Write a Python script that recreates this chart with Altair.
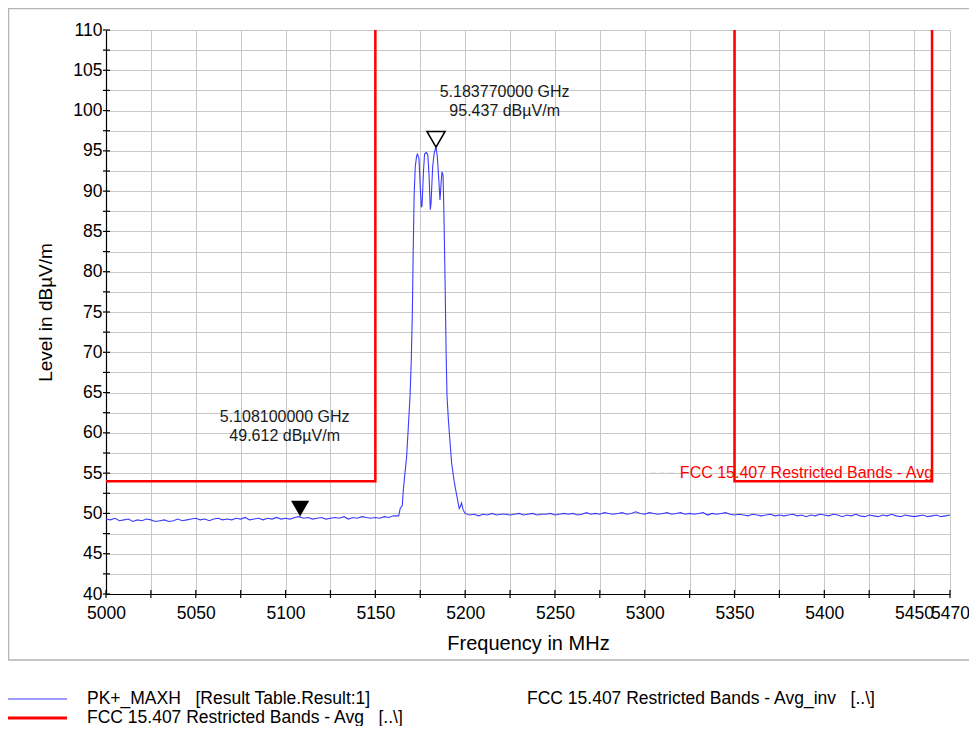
import altair as alt
import pandas as pd
import numpy as np

# ---------------- data ----------------
# noise floor below the carrier (5000 .. 5160 MHz, 2.5 MHz spacing)
left_start = 5000.0
left_vals = [
    49.3, 49.2, 49.4, 49.1, 49.2, 49.3, 49.0, 49.2, 49.1, 49.3,
    49.2, 49.0, 49.1, 49.2, 49.0, 49.1, 49.3, 49.1, 49.2, 49.3,
    49.4, 49.2, 49.3, 49.1, 49.3, 49.4, 49.2, 49.3, 49.2, 49.4,
    49.3, 49.5, 49.2, 49.3, 49.4, 49.2, 49.4, 49.3, 49.5, 49.3,
    49.4, 49.3, 49.5, 49.6, 49.4, 49.5, 49.3, 49.4, 49.5, 49.3,
    49.4, 49.5, 49.4, 49.6, 49.3, 49.5, 49.4, 49.6, 49.5, 49.4,
    49.5, 49.4, 49.6, 49.5, 49.7,
]
# carrier region
peak_freq = [5163.0, 5163.8, 5165.0, 5165.6, 5166.5, 5167.4, 5168.3, 5169.3, 5170.0,
             5170.6, 5171.1, 5171.6, 5172.2, 5173.0, 5173.5, 5174.3, 5175.0, 5175.6,
             5176.0, 5176.8, 5177.4, 5178.4, 5179.2, 5179.9, 5180.6, 5181.0, 5181.9,
             5182.8, 5183.77, 5184.5, 5185.3, 5186.0, 5186.6, 5187.1, 5187.7, 5188.2,
             5188.8, 5189.4, 5189.9, 5190.7, 5191.5, 5192.5, 5193.8, 5195.0, 5195.6,
             5196.7, 5197.4, 5198.0, 5198.8, 5199.9]
peak_vals = [49.7, 50.6, 51.0, 53.0, 55.0, 57.0, 60.5, 64.5, 69.0,
             75.0, 83.0, 89.5, 93.0, 94.4, 94.6, 94.0, 90.5, 88.0,
             88.2, 92.5, 94.6, 94.8, 94.5, 92.0, 87.7, 88.5, 93.0,
             94.8, 95.437, 94.3, 91.5, 88.9, 91.0, 92.4, 92.0, 87.0,
             79.0, 70.0, 64.5, 61.5, 59.1, 56.2, 54.1, 52.6, 51.9,
             50.6, 50.9, 51.3, 50.5, 50.0]
# noise floor above the carrier (5202.5 .. 5470 MHz, 2.5 MHz spacing)
right_start = 5202.5
right_vals = [
    49.8, 49.9, 49.7, 49.9, 49.8, 50.0, 49.8, 49.9, 49.9, 49.8,
    49.9, 50.0, 49.8, 49.9, 50.0, 49.8, 49.9, 49.9, 50.0, 49.8,
    49.9, 50.0, 49.9, 50.0, 49.8, 49.9, 50.1, 49.9, 50.0, 49.9,
    50.1, 50.0, 49.9, 50.0, 50.1, 49.9, 50.0, 50.2, 50.0, 49.9,
    50.1, 50.0, 49.9, 50.0, 50.1, 49.9, 50.0, 50.1, 49.9, 50.0,
    49.9, 50.0, 50.1, 49.8, 50.0, 49.9, 50.0, 50.1, 49.9, 49.8,
    49.9, 49.8, 49.7, 49.9, 49.8, 49.7, 49.8, 49.9, 49.7, 49.8,
    49.7, 49.8, 49.9, 49.7, 49.8, 49.6, 49.8, 49.7, 49.9, 49.8,
    49.7, 49.9, 49.8, 49.6, 49.8, 49.7, 49.9, 49.7, 49.6, 49.8,
    49.7, 49.6, 49.8, 49.7, 49.9, 49.7, 49.6, 49.8, 49.7, 49.6,
    49.7, 49.8, 49.6, 49.7, 49.8, 49.6, 49.7, 49.8,
]

# limit line (FCC 15.407 Restricted Bands - Avg)
limit_f = [5000, 5150, 5150, 5350, 5350, 5460, 5460]
limit_v = [54, 54, 110, 110, 54, 54, 110]
limit_seg = [0, 0, 0, 1, 1, 1, 1]

# markers
marker_f = [5183.77, 5108.1]
marker_v = [95.437, 49.612]
marker_filled = [False, True]
marker_label_f = [5222.0, 5099.5]
marker_label_v = [102.3, 62.0]

limit_label = "FCC 15.407 Restricted Bands - Avg"
limit_label_f = [5460]
limit_label_v = [55.0]
leader_f = [5303, 5317]
leader_v = [55.0, 55.0]

legend_labels = [
    "PK+_MAXH\u00a0\u00a0\u00a0[Result Table.Result:1]",
    "FCC 15.407 Restricted Bands - Avg\u00a0\u00a0\u00a0[..\\]",
    "FCC 15.407 Restricted Bands - Avg_inv\u00a0\u00a0\u00a0[..\\]",
]

x_ticks = [5000 + 25 * i for i in range(19)] + [5470]
y_ticks = [40 + 2.5 * i for i in range(29)]

# ---------------- build tables ----------------
freq = list(left_start + 2.5 * np.arange(len(left_vals))) + peak_freq + \
    list(right_start + 2.5 * np.arange(len(right_vals)))
vals = left_vals + peak_vals + right_vals
trace = pd.DataFrame({"f": freq, "v": vals, "i": range(len(freq))})
limit = pd.DataFrame({"f": limit_f, "v": limit_v, "seg": limit_seg, "i": range(len(limit_f))})
markers = pd.DataFrame({"f": marker_f, "v": marker_v, "filled": marker_filled})
labels = pd.DataFrame({
    "f": marker_label_f, "v": marker_label_v,
    "t": [f"{mf / 1000:.9f} GHz\n{mv:.3f} dBµV/m" for mf, mv in zip(marker_f, marker_v)],
})
limlab = pd.DataFrame({"f": limit_label_f, "v": limit_label_v, "t": [limit_label]})
leader = pd.DataFrame({"f": leader_f, "v": leader_v})
ytick_df = pd.DataFrame({"f": [5000] * len(y_ticks), "v": y_ticks})
xtick_df = pd.DataFrame({"f": x_ticks, "v": [40] * len(x_ticks)})

FONT = "Liberation Sans"
xs = alt.Scale(domain=[5000, 5470], nice=False, zero=False)
ys = alt.Scale(domain=[40, 110], nice=False, zero=False)
xax = alt.Axis(values=x_ticks, title="Frequency in MHz", ticks=False, tickSize=0,
               labelExpr="(datum.value % 50 == 0 || datum.value == 5470) ? format(datum.value, 'd') : ''",
               labelFlush=False, labelOverlap=False, labelPadding=10, labelFontSize=17.5,
               titleFontSize=20, titlePadding=12, titleFontWeight="normal",
               grid=True, gridColor="#c8c8c8", gridWidth=1,
               domainColor="#000000", domainWidth=1.2, labelColor="#000000", titleColor="#000000")
yax = alt.Axis(values=y_ticks, title="Level in dBµV/m", ticks=False, tickSize=0,
               labelExpr="(datum.value % 5 == 0) ? format(datum.value, 'd') : ''",
               labelFlush=False, labelOverlap=False, labelPadding=4, labelFontSize=17.5,
               titleFontSize=19, titlePadding=17, titleFontWeight="normal",
               grid=True, gridColor="#c8c8c8", gridWidth=1,
               domainColor="#000000", domainWidth=1.2, labelColor="#000000", titleColor="#000000")

X = lambda: alt.X("f:Q", scale=xs, axis=xax)
Y = lambda: alt.Y("v:Q", scale=ys, axis=yax)

trace_layer = alt.Chart(trace).mark_line(color="#3c3cff", strokeWidth=1.1).encode(
    x=X(), y=Y(), order="i:Q")
limit_layer = alt.Chart(limit).mark_line(color="#ff0000", strokeWidth=2.5).encode(
    x=X(), y=Y(), detail="seg:N", order="i:Q")
leader_layer = alt.Chart(leader).mark_line(color="#cccccc", strokeWidth=1, strokeDash=[6, 3]).encode(
    x=X(), y=Y())
open_marker = alt.Chart(markers[~markers["filled"]]).mark_point(
    shape="triangle-down", size=330, filled=False, stroke="#000000", strokeWidth=1.5,
    opacity=1, yOffset=-8).encode(x=X(), y=Y())
filled_marker = alt.Chart(markers[markers["filled"]]).mark_point(
    shape="triangle-down", size=330, filled=True, fill="#000000", opacity=1,
    yOffset=-8).encode(x=X(), y=Y())
label_layer = alt.Chart(labels).mark_text(
    font=FONT, fontSize=16, lineBreak="\n", lineHeight=19, align="center",
    baseline="middle", color="#1a1a1a").encode(x=X(), y=Y(), text="t:N")
limlab_layer = alt.Chart(limlab).mark_text(
    font=FONT, fontSize=16, align="right", baseline="middle", color="#ff0000", dx=1).encode(
    x=X(), y=Y(), text="t:N")
ytick_layer = alt.Chart(ytick_df).mark_rule(color="#000000", strokeWidth=1.2,
                                            xOffset=-3, x2Offset=4).encode(
    x=X(), x2="f:Q", y=Y())
xtick_layer = alt.Chart(xtick_df).mark_rule(color="#000000", strokeWidth=1.2,
                                            yOffset=-4, y2Offset=4).encode(
    x=X(), y=Y(), y2="v:Q")

# decorations: outer frame and legend (pixel positions relative to the plot area)
frame = alt.Chart(pd.DataFrame({"a": [0]})).mark_rect(
    fillOpacity=0, stroke="#b4b4b4", strokeWidth=1.5).encode(
    x=alt.value(-97.5), x2=alt.value(900), y=alt.value(-21.5), y2=alt.value(630))
leg_blue = alt.Chart(pd.DataFrame({"a": [0]})).mark_rule(color="#3c3cff", strokeWidth=1.2).encode(
    x=alt.value(-99), x2=alt.value(-39), y=alt.value(669))
leg_red = alt.Chart(pd.DataFrame({"a": [0]})).mark_rule(color="#ff0000", strokeWidth=3).encode(
    x=alt.value(-99), x2=alt.value(-39), y=alt.value(688))
leg_txt = [
    alt.Chart(pd.DataFrame({"a": [0]})).mark_text(
        font=FONT, fontSize=17.5, align="left", baseline="middle", color="#000000").encode(
        x=alt.value(px), y=alt.value(py), text=alt.value(txt))
    for txt, px, py in zip(legend_labels, [-19, -19, 421], [669, 687.5, 669])
]

chart = alt.layer(
    frame, trace_layer, limit_layer, leader_layer, open_marker, filled_marker,
    label_layer, limlab_layer, ytick_layer, xtick_layer, leg_blue, leg_red, *leg_txt
).properties(
    width=844, height=564,
    padding={"left": 98, "top": 22, "right": 19, "bottom": 132},
    autosize=alt.AutoSizeParams(type="none"),
).configure(font=FONT).configure_view(stroke=None)

chart.save("out.html", embed_options={"renderer": "svg", "actions": False})
